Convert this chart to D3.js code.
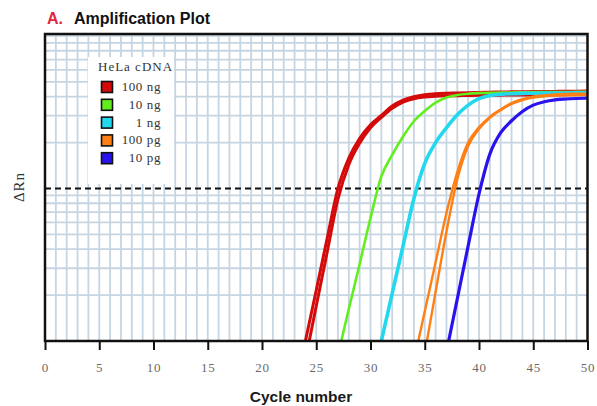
<!DOCTYPE html>
<html>
<head>
<meta charset="utf-8">
<script src="https://cdn.jsdelivr.net/npm/d3@7"></script>
<style>
  html, body { margin: 0; padding: 0; background: #fff; }
  svg { display: block; }
</style>
</head>
<body>
<svg id="chart" width="597" height="406"></svg>
<script>
// Amplification plot: ΔRn (log scale) per PCR cycle for a HeLa cDNA dilution series.

const xTicks = [0, 5, 10, 15, 20, 25, 30, 35, 40, 45, 50];
const yGridValues = [0.02, 0.03, 0.04, 0.05, 0.06, 0.07, 0.08, 0.09,
                     0.2, 0.3, 0.4, 0.5, 0.6, 0.7, 0.8, 0.9, 1.0];
const threshold = 0.1;

const sampleLabels = ["100 ng", "10 ng", "1 ng", "100 pg", "10 pg"];

// ΔRn readings, one value per cycle starting at the given first cycle
const first100ngA = 23;
const dRn100ngA = [0.0047, 0.0100, 0.0215, 0.047, 0.100, 0.158, 0.213, 0.262, 0.301, 0.348,
                   0.380, 0.400, 0.412, 0.418, 0.421, 0.423, 0.425, 0.426, 0.428, 0.429,
                   0.430, 0.431, 0.432, 0.432, 0.433, 0.434, 0.434, 0.435];
const first100ngB = 23;
const dRn100ngB = [0.0035, 0.0075, 0.017, 0.038, 0.085, 0.143, 0.198, 0.250, 0.292, 0.335,
                   0.368, 0.388, 0.398, 0.403, 0.405, 0.406, 0.407, 0.408, 0.408, 0.409,
                   0.410, 0.410, 0.411, 0.411, 0.412, 0.412, 0.413, 0.413];
const first10ng = 27;
const dRn10ng = [0.0081, 0.0162, 0.032, 0.064, 0.120, 0.166, 0.219, 0.276, 0.322, 0.365,
                 0.395, 0.410, 0.418, 0.422, 0.424, 0.425, 0.426, 0.427, 0.428, 0.428,
                 0.429, 0.429, 0.430, 0.430];
const first1ng = 30;
const dRn1ng = [0.0049, 0.0100, 0.0205, 0.042, 0.086, 0.146, 0.200, 0.250, 0.304, 0.352,
                0.388, 0.407, 0.414, 0.418, 0.420, 0.421, 0.422, 0.423, 0.423, 0.424, 0.424];
const first100pgA = 34;
const dRn100pgA = [0.0074, 0.0156, 0.0328, 0.069, 0.128, 0.200, 0.252, 0.295, 0.330, 0.363,
                   0.385, 0.400, 0.408, 0.413, 0.416, 0.418, 0.419];
const first100pgB = 34;
const dRn100pgB = [0.0033, 0.0083, 0.021, 0.052, 0.115, 0.190, 0.245, 0.290, 0.326, 0.358,
                   0.380, 0.395, 0.402, 0.406, 0.408, 0.409, 0.410];
const first10pg = 36;
const dRn10pg = [0.0039, 0.0085, 0.0189, 0.042, 0.092, 0.168, 0.232, 0.278, 0.320, 0.352,
                 0.370, 0.381, 0.386, 0.389, 0.391];

// colours per sample and line weights per run
const sampleColors = ["#d40a0a", "#62ee1e", "#22d8ee", "#ff7f14", "#2a12ee"];

const runs = [
  { sample: 0, first: first100ngA, values: dRn100ngA, width: 3 },
  { sample: 0, first: first100ngB, values: dRn100ngB, width: 3 },
  { sample: 1, first: first10ng,   values: dRn10ng,   width: 2.6 },
  { sample: 2, first: first1ng,    values: dRn1ng,    width: 3.6 },
  { sample: 3, first: first100pgA, values: dRn100pgA, width: 2.4 },
  { sample: 3, first: first100pgB, values: dRn100pgB, width: 2.4 },
  { sample: 4, first: first10pg,   values: dRn10pg,   width: 3.2 }
].map(r => ({ ...r, points: r.values.map((v, i) => ({ cycle: r.first + i, dRn: v })) }));

const svg = d3.select("#chart");
const plotLeft = 45, plotRight = 587.5, plotTop = 34, plotBottom = 341;

const x = d3.scaleLinear().domain([0, 50]).range([plotLeft, plotRight]);
const y = d3.scaleLog().domain([0.01, 1.03]).range([plotBottom, plotTop]);

const gridColor = "#c6d5e2";

// grid
const grid = svg.append("g");
grid.selectAll("line.v")
  .data(d3.range(1, 50))
  .join("line")
  .attr("class", "v")
  .attr("x1", d => x(d)).attr("x2", d => x(d))
  .attr("y1", plotTop).attr("y2", plotBottom)
  .attr("stroke", gridColor).attr("stroke-width", 1.8);
grid.selectAll("line.h")
  .data(yGridValues)
  .join("line")
  .attr("class", "h")
  .attr("x1", plotLeft).attr("x2", plotRight)
  .attr("y1", d => y(d)).attr("y2", d => y(d))
  .attr("stroke", gridColor).attr("stroke-width", 1.8);

// legend backdrop
svg.append("rect")
  .attr("x", 88).attr("y", 57).attr("width", 86).attr("height", 127)
  .attr("fill", "#fff");

// threshold
svg.append("line")
  .attr("x1", plotLeft).attr("x2", plotRight)
  .attr("y1", y(threshold)).attr("y2", y(threshold))
  .attr("stroke", "#111").attr("stroke-width", 2.2)
  .attr("stroke-dasharray", "6,4");

// amplification curves
svg.append("clipPath").attr("id", "plotClip")
  .append("rect").attr("x", plotLeft).attr("y", plotTop)
  .attr("width", plotRight - plotLeft).attr("height", plotBottom - plotTop);

const line = d3.line()
  .x(d => x(d.cycle))
  .y(d => y(d.dRn))
  .curve(d3.curveMonotoneX);

svg.append("g").attr("clip-path", "url(#plotClip)")
  .selectAll("path")
  .data(runs)
  .join("path")
  .attr("d", d => line(d.points))
  .attr("fill", "none")
  .attr("stroke", d => sampleColors[d.sample])
  .attr("stroke-width", d => d.width)
  .attr("stroke-linejoin", "round");

// frame
svg.append("rect")
  .attr("x", plotLeft).attr("y", plotTop)
  .attr("width", plotRight - plotLeft).attr("height", plotBottom - plotTop)
  .attr("fill", "none").attr("stroke", "#111").attr("stroke-width", 2.5);

// x axis
const xAxis = svg.append("g")
  .attr("transform", `translate(0,${plotBottom})`)
  .call(d3.axisBottom(x).tickValues(xTicks).tickSize(9).tickPadding(13).tickSizeOuter(0));
xAxis.select(".domain").remove();
xAxis.selectAll(".tick line").attr("stroke", "#111").attr("stroke-width", 2);
xAxis.selectAll(".tick text")
  .attr("fill", "#6a6a6a")
  .style("font-family", "'Liberation Serif', 'DejaVu Serif', serif")
  .style("font-size", "13px")
  .style("letter-spacing", "0.8px");

svg.append("text")
  .attr("x", 301).attr("y", 402)
  .attr("text-anchor", "middle")
  .attr("fill", "#1a1a1a")
  .style("font-family", "'Liberation Sans', Arial, sans-serif")
  .style("font-weight", "bold")
  .style("font-size", "15.5px")
  .text("Cycle number");

// y axis title
svg.append("text")
  .attr("transform", "translate(24,187) rotate(-90)")
  .attr("text-anchor", "middle")
  .attr("fill", "#333")
  .style("font-family", "'Liberation Serif', 'DejaVu Serif', serif")
  .style("font-size", "15px")
  .style("letter-spacing", "1px")
  .text("ΔRn");

// chart title
svg.append("text")
  .attr("x", 47).attr("y", 24)
  .attr("fill", "#e3263f")
  .style("font-family", "'Liberation Sans', Arial, sans-serif")
  .style("font-weight", "bold")
  .style("font-size", "16px")
  .text("A.");
svg.append("text")
  .attr("x", 74).attr("y", 24)
  .attr("fill", "#111")
  .style("font-family", "'Liberation Sans', Arial, sans-serif")
  .style("font-weight", "bold")
  .style("font-size", "16px")
  .text("Amplification Plot");

// legend
const legend = svg.append("g");
legend.append("text")
  .attr("x", 98).attr("y", 71)
  .attr("fill", "#333")
  .style("font-family", "'Liberation Serif', 'DejaVu Serif', serif")
  .style("font-size", "13px")
  .style("letter-spacing", "1px")
  .text("HeLa cDNA");

const rows = legend.selectAll("g.row")
  .data(sampleLabels)
  .join("g")
  .attr("class", "row")
  .attr("transform", (d, i) => `translate(0,${87 + i * 17.8})`);
rows.append("rect")
  .attr("x", 101.5).attr("y", -5.5).attr("width", 11).attr("height", 11)
  .attr("fill", (d, i) => sampleColors[i])
  .attr("stroke", "#111").attr("stroke-width", 1.6);
rows.append("text")
  .attr("x", 161).attr("y", 4)
  .attr("text-anchor", "end")
  .attr("fill", "#333")
  .style("font-family", "'Liberation Serif', 'DejaVu Serif', serif")
  .style("font-size", "13px")
  .style("letter-spacing", "0.6px")
  .text(d => d);
</script>
</body>
</html>
